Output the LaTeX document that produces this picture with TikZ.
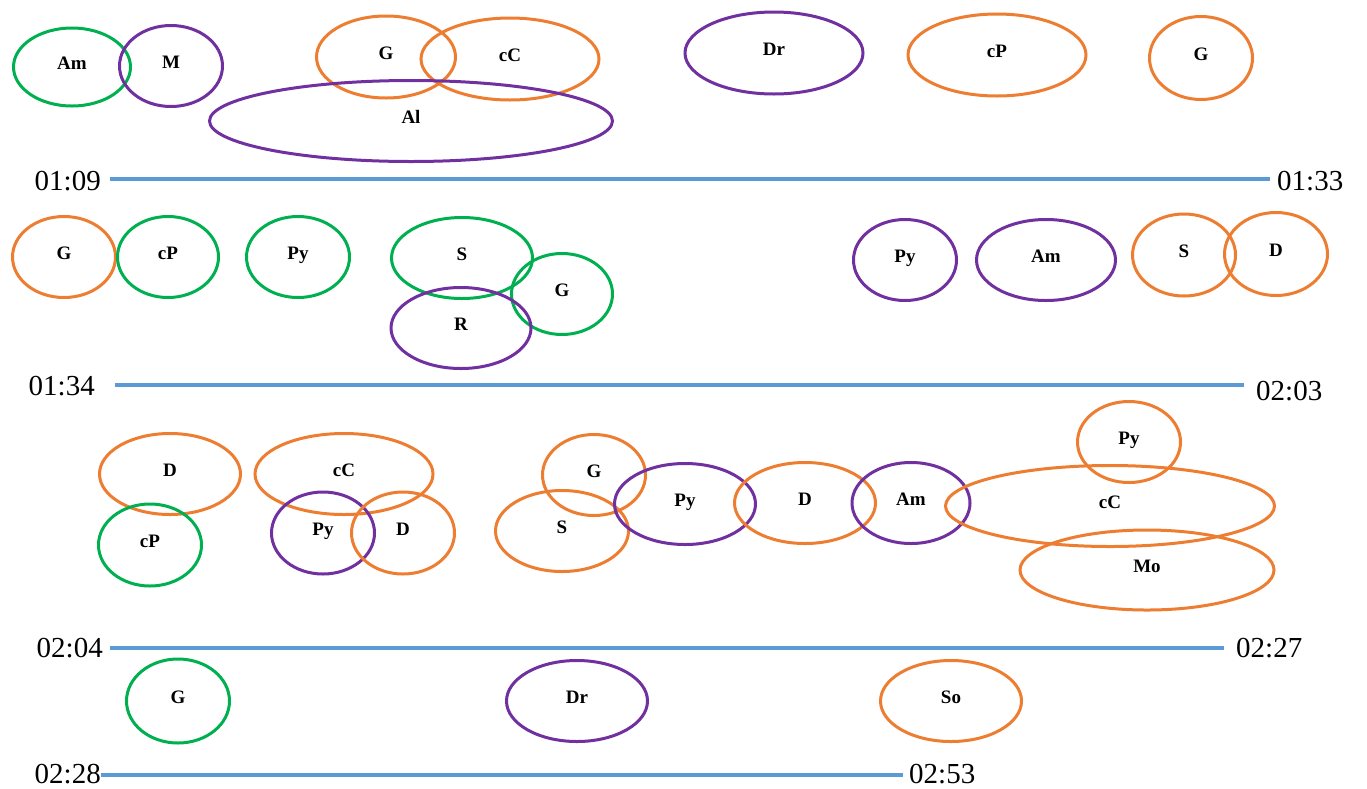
\documentclass[tikz,border=0pt]{standalone}
\usepackage{fontspec}
\setmainfont{Liberation Serif}
\usetikzlibrary{shapes.geometric}
\definecolor{orng}{HTML}{ED7D31}
\definecolor{purp}{HTML}{7030A0}
\definecolor{grn}{HTML}{00B050}
\definecolor{blu}{HTML}{5B9BD5}
\tikzset{
  ov/.style={ellipse, draw, line width=3pt, inner sep=0pt,
    text height=13pt, text depth=8pt,
    font=\fontsize{19}{19}\selectfont\bfseries},
  tl/.style={font=\fontsize{29}{29}\selectfont, inner sep=0pt},
  axis/.style={draw=blu, line width=4pt},
}
% one ellipse: name, x, y, width, height, colour, text
\newcommand\Ell[7]{\node[ov, draw=#6, minimum width=#4pt, minimum height=#5pt] (#1) at (#2,#3) {#7};}
\begin{document}
\begin{tikzpicture}[x=1pt, y=-1pt]
\useasboundingbox (0,0) rectangle (1367,788);

% --- first strip
\Ell{a1}{72}{67}{117}{78}{grn}{Am}
\Ell{a2}{171}{66}{103}{81}{purp}{M}
\Ell{a3}{386}{57}{139}{82}{orng}{G}
\Ell{a4}{510}{59}{178}{82}{orng}{cC}
\Ell{a5}{411}{121}{403}{81}{purp}{Al}
\Ell{a6}{774}{53}{178}{82}{purp}{Dr}
\Ell{a7}{997}{55}{178}{82}{orng}{cP}
\Ell{a8}{1201}{58}{103}{83}{orng}{G}

\coordinate (l1a) at (110,179);
\coordinate (l1b) at (1270,179);
\draw[axis] (l1a) -- (l1b);
\node[tl, anchor=east] (t1a) at (101,181) {01:09};
\node[tl, anchor=west] (t1b) at (1277,181) {01:33};

% --- second strip
\Ell{b1}{64}{257}{103}{81}{orng}{G}
\Ell{b2}{168}{257}{101}{81}{grn}{cP}
\Ell{b3}{298}{257}{103}{81}{grn}{Py}
\Ell{b4}{462}{258}{141}{81}{grn}{S}
\Ell{b5}{562}{294}{101}{81}{grn}{G}
\Ell{b6}{461}{328}{140}{81}{purp}{R}
\Ell{b7}{905}{260}{103}{81}{purp}{Py}
\Ell{b8}{1046}{260}{139}{81}{purp}{Am}
\Ell{b9}{1184}{255}{103}{82}{orng}{S}
\Ell{b10}{1276}{254}{103}{83}{orng}{D}

\coordinate (l2a) at (115,385);
\coordinate (l2b) at (1244,385);
\draw[axis] (l2a) -- (l2b);
\node[tl, anchor=east] (t2a) at (95,386) {01:34};
\node[tl, anchor=west] (t2b) at (1256,391) {02:03};

% --- third strip
\Ell{c1}{170}{474}{141}{81}{orng}{D}
\Ell{c2}{150}{545}{103}{82}{grn}{cP}
\Ell{c3}{344}{474}{178}{81}{orng}{cC}
\Ell{c4}{323}{533}{103}{82}{purp}{Py}
\Ell{c5}{403}{533}{103}{82}{orng}{D}
\Ell{c6}{594}{475}{103}{81}{orng}{G}
\Ell{c7}{562}{531}{133}{81}{orng}{S}
\Ell{c8}{685}{504}{141}{81}{purp}{Py}
\Ell{c9}{805}{503}{141}{81}{orng}{D}
\Ell{c10}{911}{503}{118}{81}{purp}{Am}
\Ell{c11}{1110}{506}{329}{81}{orng}{cC}
\Ell{c12}{1129}{442}{103}{81}{orng}{Py}
\Ell{c13}{1147}{570}{254}{80}{orng}{Mo}

\coordinate (l3a) at (110,648);
\coordinate (l3b) at (1224,648);
\draw[axis] (l3a) -- (l3b);
\node[tl, anchor=east] (t3a) at (103,648) {02:04};
\node[tl, anchor=west] (t3b) at (1236,648) {02:27};

% --- fourth strip
\Ell{d1}{178}{701}{103}{84}{grn}{G}
\Ell{d2}{577}{701}{141}{81}{purp}{Dr}
\Ell{d3}{951}{701}{141}{81}{orng}{So}

\coordinate (l4a) at (101,775);
\coordinate (l4b) at (903,775);
\draw[axis] (l4a) -- (l4b);
\node[tl, anchor=east] (t4a) at (101,774) {02:28};
\node[tl, anchor=west] (t4b) at (909,774) {02:53};
\end{tikzpicture}
\end{document}
